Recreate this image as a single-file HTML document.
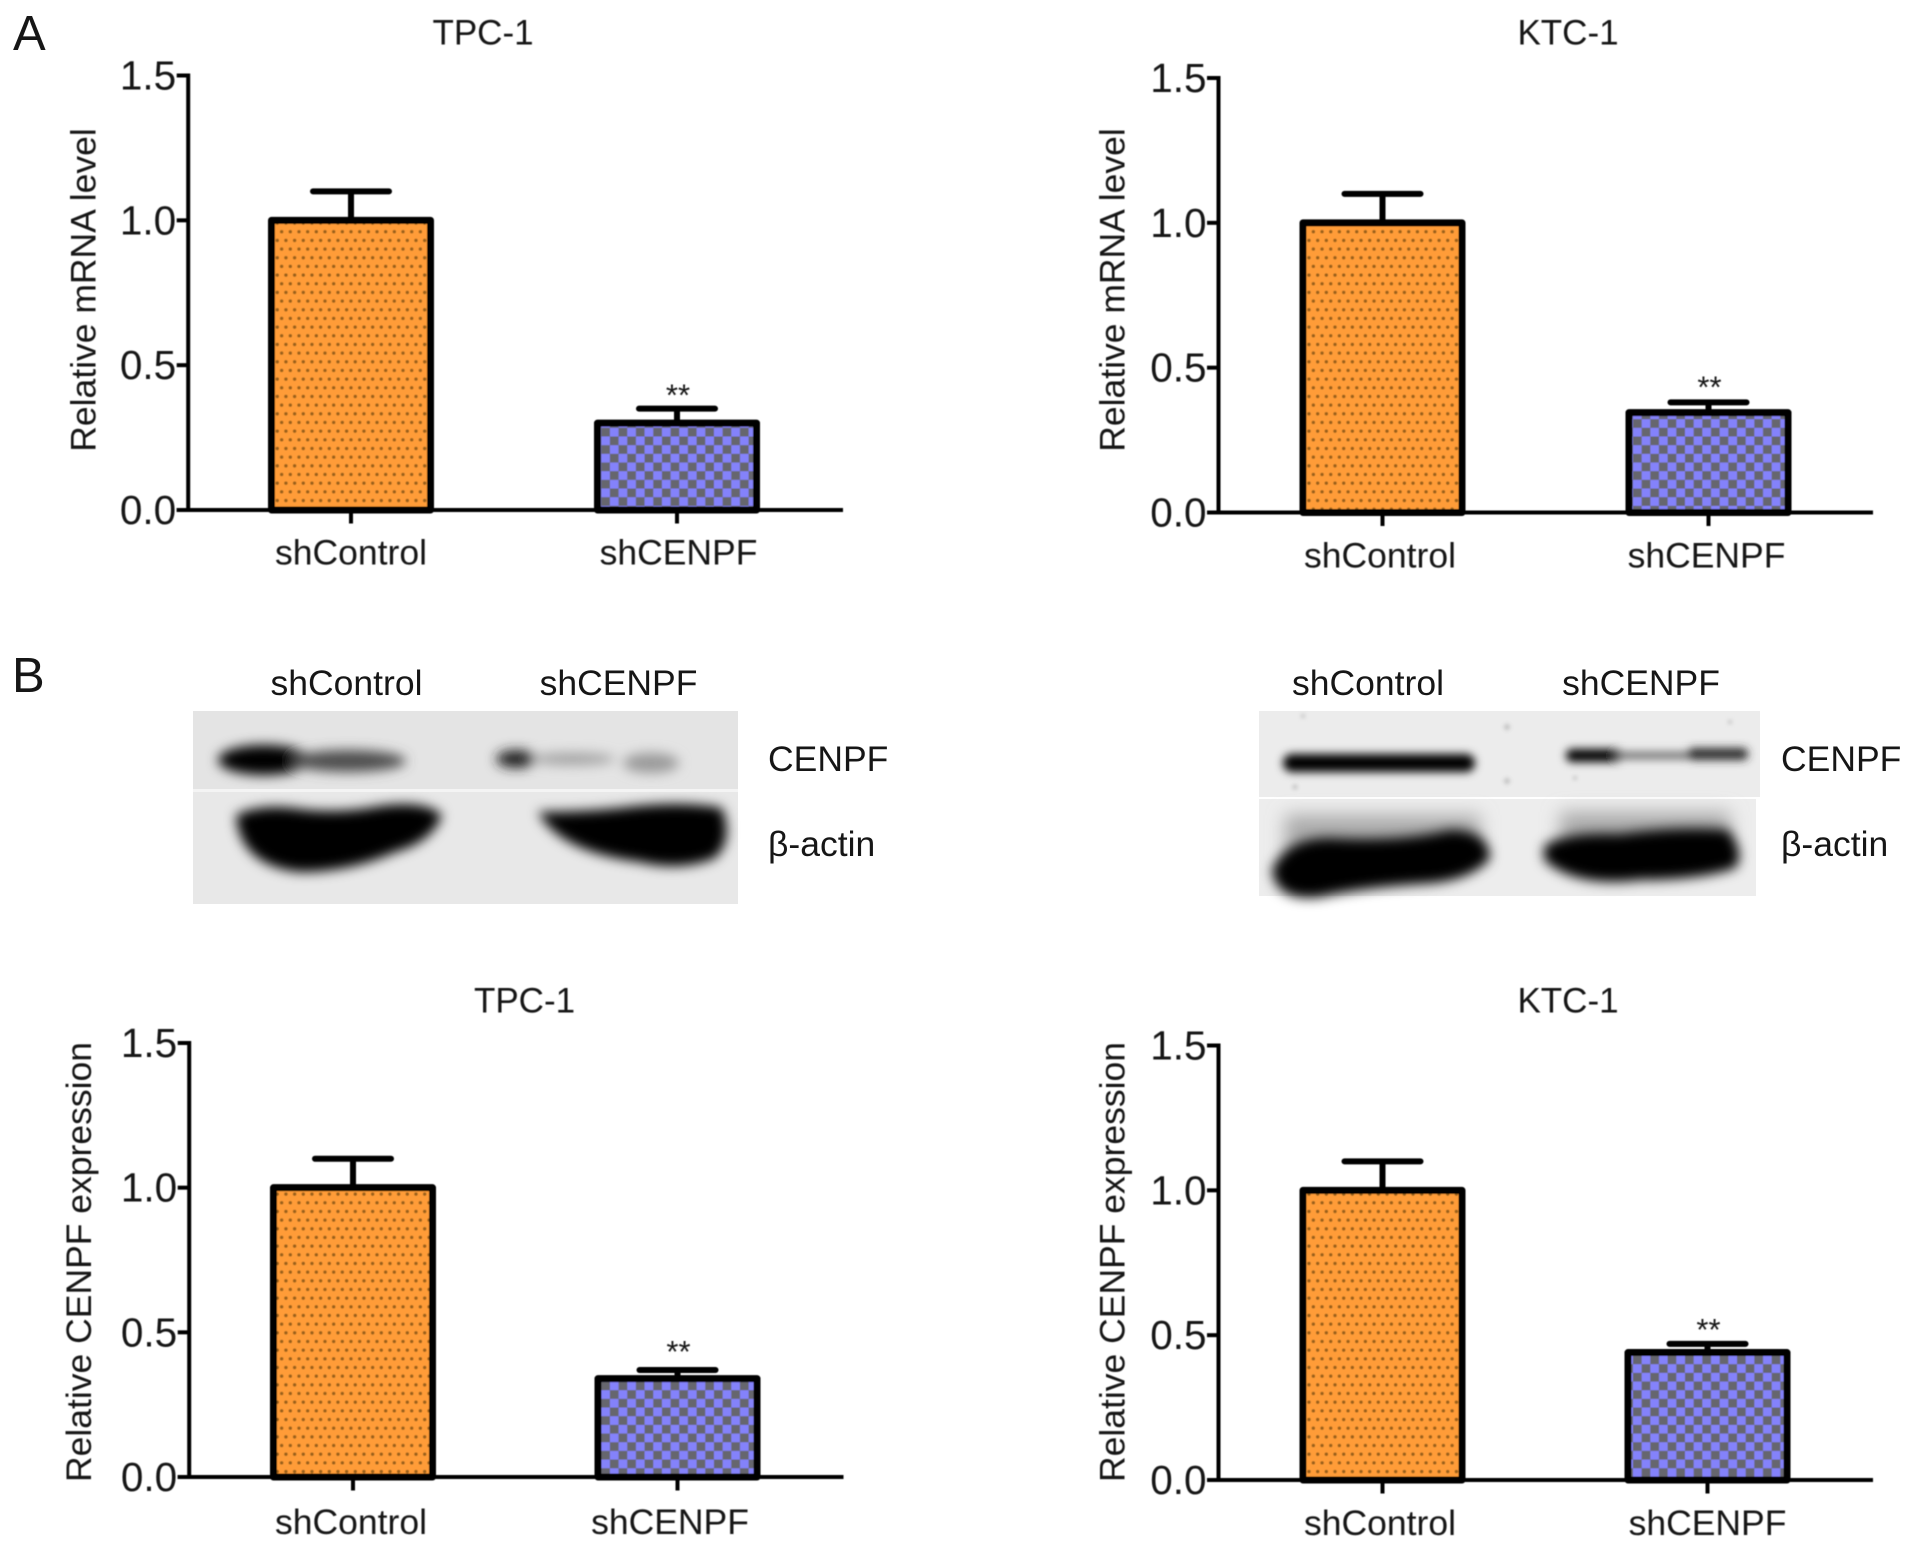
<!DOCTYPE html>
<html lang="en">
<head>
<meta charset="utf-8">
<title>CENPF knockdown bar charts and western blots</title>
<style>
html,body{margin:0;padding:0;background:#fff;width:1913px;height:1548px;overflow:hidden}
svg{display:block}
text{font-family:"Liberation Sans",sans-serif;fill:#161616}
</style>
</head>
<body>
<svg id="figure" xmlns="http://www.w3.org/2000/svg" width="1913" height="1548" viewBox="0 0 1913 1548">
<defs>
  <pattern id="dots" patternUnits="userSpaceOnUse" width="8.67" height="17.34" x="2" y="2">
    <rect width="8.67" height="17.34" fill="#ff9c38"/>
    <circle cx="2.2" cy="4.3" r="1.7" fill="#9a601a"/>
    <circle cx="6.5" cy="13" r="1.7" fill="#9a601a"/>
  </pattern>
  <pattern id="checks" patternUnits="userSpaceOnUse" width="17.34" height="17.34" x="3" y="3">
    <rect width="17.34" height="17.34" fill="#8482fb"/>
    <rect width="8.67" height="8.67" fill="#66666e"/>
    <rect x="8.67" y="8.67" width="8.67" height="8.67" fill="#66666e"/>
  </pattern>
  <filter id="b1" x="-100%" y="-100%" width="300%" height="300%"><feGaussianBlur stdDeviation="2"/></filter>
  <filter id="b2" x="-30%" y="-80%" width="160%" height="260%"><feGaussianBlur stdDeviation="4.5"/></filter>
  <filter id="b5" x="-30%" y="-60%" width="160%" height="220%"><feGaussianBlur stdDeviation="6"/></filter>
  <filter id="b8" x="-30%" y="-60%" width="160%" height="220%"><feGaussianBlur stdDeviation="9"/></filter>
  <filter id="soft" x="-2%" y="-2%" width="104%" height="104%"><feGaussianBlur stdDeviation="0.55"/></filter>
</defs>

<text x="13" y="50" font-size="49">A</text>
<text x="12" y="692" font-size="49">B</text>

<g>
  <rect x="193" y="711" width="545" height="81" fill="#e4e4e4"/>
  <rect x="193" y="792" width="545" height="112" fill="#e8e8e8"/>
  <rect x="193" y="789" width="545" height="3" fill="#f4f4f4"/>
  <g filter="url(#b5)">
    <ellipse cx="264" cy="760" rx="46" ry="15" fill="#000"/>
    <ellipse cx="348" cy="761" rx="58" ry="11" fill="#4e4e4e"/>
    <ellipse cx="516" cy="759" rx="20" ry="9" fill="#222"/>
    <ellipse cx="573" cy="759" rx="42" ry="6" fill="#a0a0a0"/>
    <ellipse cx="651" cy="763" rx="28" ry="10" fill="#9a9a9a"/>
  </g>
  <g filter="url(#b5)">
    <path d="M236 815 Q262 803 300 809 Q340 814 380 806 Q425 800 442 815 Q432 842 395 852 Q350 872 300 872 Q240 866 236 815Z" fill="#000"/>
    <path d="M538 812 Q580 812 620 808 Q680 800 722 808 Q734 840 715 858 Q680 872 640 862 Q560 852 538 812Z" fill="#000"/>
  </g>
</g>

<g>
  <rect x="1259" y="711" width="501" height="86" fill="#ececec"/>
  <rect x="1259" y="799" width="497" height="97" fill="#ededed"/>
  <g fill="#bdbdbd">
    <circle cx="1303" cy="716" r="2" filter="url(#b1)"/>
    <circle cx="1507" cy="727" r="3" filter="url(#b1)"/>
    <circle cx="1507" cy="781" r="3" filter="url(#b1)"/>
    <circle cx="1295" cy="787" r="2.5" filter="url(#b1)"/>
    <circle cx="1730" cy="722" r="2" filter="url(#b1)"/>
    <circle cx="1575" cy="778" r="2" filter="url(#b1)"/>
  </g>
  <g filter="url(#b2)">
    <rect x="1283" y="754" width="192" height="18" rx="9" fill="#000"/>
    <rect x="1566" y="749" width="56" height="13" rx="6" fill="#000"/>
    <rect x="1615" y="752" width="80" height="7" fill="#666"/>
    <rect x="1688" y="748" width="60" height="12" rx="5" fill="#2a2a2a"/>
  </g>
  <g filter="url(#b8)">
    <rect x="1285" y="815" width="195" height="45" fill="#aaa"/>
    <rect x="1560" y="812" width="170" height="45" fill="#aaa"/>
  </g>
  <g filter="url(#b5)">
    <path d="M1272 870 Q1286 838 1330 838 Q1400 842 1450 830 Q1488 830 1490 858 Q1470 882 1420 884 Q1360 888 1320 897 Q1276 902 1272 870Z" fill="#000"/>
    <path d="M1544 846 Q1565 832 1620 834 Q1680 826 1728 830 Q1746 855 1735 868 Q1700 880 1640 880 Q1576 888 1544 860Z" fill="#000"/>
  </g>
</g>

<g font-size="35.5">
  <text x="346.5" y="695" text-anchor="middle">shControl</text>
  <text x="618.5" y="695" text-anchor="middle">shCENPF</text>
  <text x="768" y="771">CENPF</text>
  <text x="768" y="856">β-actin</text>
  <text x="1368" y="695" text-anchor="middle">shControl</text>
  <text x="1641" y="695" text-anchor="middle">shCENPF</text>
  <text x="1781" y="771">CENPF</text>
  <text x="1781" y="856">β-actin</text>
</g>
</svg>

<script>
// ---- chart data ----
const categories = ['shControl', 'shCENPF'];
const yTickValues = [0, 0.5, 1, 1.5];
const yTickLabels = ['0.0', '0.5', '1.0', '1.5'];
const mrnaTpcMeans = [1.00, 0.30];
const mrnaTpcErrors = [0.10, 0.05];
const mrnaKtcMeans = [1.00, 0.345];
const mrnaKtcErrors = [0.10, 0.035];
const proteinTpcMeans = [1.00, 0.34];
const proteinTpcErrors = [0.10, 0.03];
const proteinKtcMeans = [1.00, 0.44];
const proteinKtcErrors = [0.10, 0.03];
const significance = ['', '**'];
const yMax = 1.5;

// ---- layout (geometry of each chart frame) ----
const charts = [
  {id:'mrna-tpc1', title:'TPC-1', yTitle:'Relative mRNA level', means:mrnaTpcMeans, errors:mrnaTpcErrors,
   axisX:188.2, top:75.5, base:510, xEnd:843, first:351, step:326, barW:159,
   titleX:483, titleY:44.5, yTitleX:95.5, yTitleY:290, labelDy:54.5, labelDx:[0,1.5], starDy:[0,-3]},
  {id:'mrna-ktc1', title:'KTC-1', yTitle:'Relative mRNA level', means:mrnaKtcMeans, errors:mrnaKtcErrors,
   axisX:1218.5, top:78, base:512.5, xEnd:1873, first:1382.5, step:326, barW:159,
   titleX:1568, titleY:44.5, yTitleX:1124.5, yTitleY:290, labelDy:55, labelDx:[-2.5,-2],  starDy:[0,-5]},
  {id:'protein-tpc1', title:'TPC-1', yTitle:'Relative CENPF expression', means:proteinTpcMeans, errors:proteinTpcErrors,
   axisX:189.2, top:1043, base:1477, xEnd:843.5, first:353, step:324.5, barW:159,
   titleX:524.5, titleY:1012.5, yTitleX:91, yTitleY:1262, labelDy:57, labelDx:[-2,-7.5], starDy:[0,-8]},
  {id:'protein-ktc1', title:'KTC-1', yTitle:'Relative CENPF expression', means:proteinKtcMeans, errors:proteinKtcErrors,
   axisX:1218.5, top:1045.5, base:1480, xEnd:1873, first:1382.5, step:325, barW:159,
   titleX:1568, titleY:1012.5, yTitleX:1124.5, yTitleY:1262, labelDy:55, labelDx:[-2.5,0], starDy:[0,-4]}
];

const NS = 'http://www.w3.org/2000/svg';
const figure = document.getElementById('figure');
function mk(tag, parent, props) {
  const n = document.createElementNS(NS, tag);
  for (const k in props) n.setAttribute(k, props[k]);
  parent.appendChild(n);
  return n;
}

charts.forEach(function (c) {
  const yScale = function (v) { return c.base - (v / yMax) * (c.base - c.top); };
  const xScale = function (i) { return c.first + i * c.step; };
  const axisW = 4, barStroke = 7, tickLen = 11.5;

  const g = mk('g', figure, {});
  
  
  g.setAttribute('filter', 'url(#soft)');

  const title = mk('text', g, {x:c.titleX, y:c.titleY, 'text-anchor':'middle', 'font-size':35});
  
  
  title.textContent = c.title;

  const yTitle = mk('text', g, {x:0, y:0, 'text-anchor':'middle', 'font-size':35.5,
    transform:'translate(' + c.yTitleX + ' ' + c.yTitleY + ') rotate(-90)'});
  
  
  yTitle.textContent = c.yTitle;

  // bars, drawn before the axis
  categories.forEach(function (cat, i) {
    const cx = xScale(i);
    const yTop = yScale(c.means[i]);
    const yErr = yScale(c.means[i] + c.errors[i]);

    const whisker = mk('line', g, {x1:cx, x2:cx, y1:yTop, y2:yErr, stroke:'#000', 'stroke-width':6});
    
    

    const cap = mk('line', g, {x1:cx - 38, x2:cx + 38, y1:yErr, y2:yErr, stroke:'#000', 'stroke-width':6, 'stroke-linecap':'round'});
    
    

    const bar = mk('rect', g, {x:cx - c.barW / 2, y:yTop, width:c.barW, height:c.base - yTop,
      fill:i === 0 ? 'url(#dots)' : 'url(#checks)', stroke:'#000', 'stroke-width':barStroke, 'stroke-linejoin':'round'});
    
    

    if (significance[i]) {
      const star = mk('text', g, {x:cx + 1, y:yErr + c.starDy[i], 'text-anchor':'middle', 'font-size':31});
      
      
      star.textContent = significance[i];
    }

    const tick = mk('line', g, {x1:cx, x2:cx, y1:c.base, y2:c.base + tickLen + 2, stroke:'#000', 'stroke-width':axisW});
    
    

    const label = mk('text', g, {x:cx + c.labelDx[i], y:c.base + c.labelDy, 'text-anchor':'middle', 'font-size':35.5});
    
    
    label.textContent = cat;
  });

  const yAxis = mk('line', g, {x1:c.axisX, x2:c.axisX, y1:c.top - axisW / 2, y2:c.base, stroke:'#000', 'stroke-width':axisW});
  
  

  const xAxis = mk('line', g, {x1:c.axisX - tickLen, x2:c.xEnd, y1:c.base, y2:c.base, stroke:'#000', 'stroke-width':axisW});
  
  

  yTickValues.forEach(function (v, i) {
    const y = yScale(v);
    const t = mk('line', g, {x1:c.axisX - tickLen, x2:c.axisX, y1:y, y2:y, stroke:'#000', 'stroke-width':axisW});
    
    
    const l = mk('text', g, {x:c.axisX - 12, y:y + 14, 'text-anchor':'end', 'font-size':40.5});
    
    
    l.textContent = yTickLabels[i];
  });
});
</script>
</body>
</html>
